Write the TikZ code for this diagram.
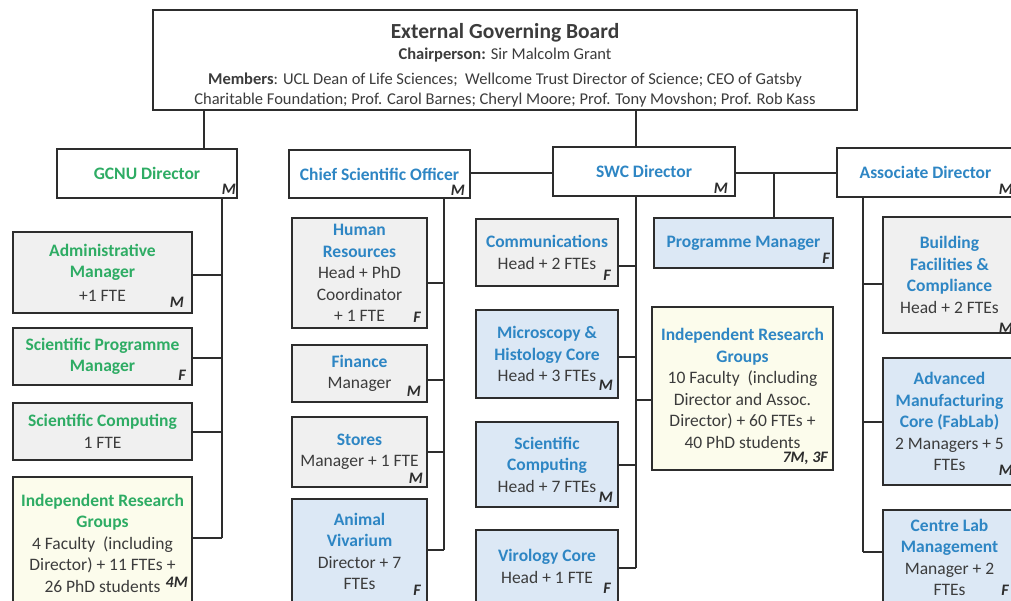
\documentclass[tikz,border=0pt]{standalone}
\usepackage{fontspec}
\setmainfont{Carlito}
\definecolor{hgreen}{RGB}{46,172,100}
\definecolor{hblue}{RGB}{46,134,196}
\definecolor{txt}{RGB}{60,60,60}
\definecolor{fgrey}{RGB}{240,240,240}
\definecolor{fblue}{RGB}{220,232,245}
\definecolor{fyel}{RGB}{252,252,236}
\definecolor{ln}{RGB}{45,45,45}
\tikzset{
  box/.style={draw=ln, line width=2.4pt, align=center, inner sep=0pt,
    font=\fontsize{17.5}{21.5}\selectfont, text=txt},
  conn/.style={draw=ln, line width=2.2pt},
  sexmark/.style={font=\fontsize{16}{16}\selectfont\bfseries\itshape, text=ln,
    inner sep=0pt, anchor=east},
}
\newcommand{\bx}[7]{\node[box,fill=#6,minimum width={#4-#2},minimum height={#5-#3}] (#1) at ({(#2+#4)/2},{(#3+#5)/2}) {#7};}
\newcommand{\hg}[1]{\textcolor{hgreen}{\bfseries #1}}
\newcommand{\hb}[1]{\textcolor{hblue}{\bfseries #1}}
\newcommand{\smark}[3]{\node[sexmark] at (#1,#2) {#3};}
\begin{document}
\begin{tikzpicture}[x=1pt,y=-1pt]
\useasboundingbox (0,0) rectangle (1011,601);
\clip (0,0) rectangle (1011,601);
\fill[white] (0,0) rectangle (1011,601);

% board
\bx{board}{153}{10}{857}{110}{white}{{\rule{0pt}{26pt}\fontsize{21.5}{26}\selectfont\bfseries External Governing Board}\\[0pt]
{\fontsize{16.5}{21}\selectfont\textbf{Chairperson:} Sir Malcolm Grant}\\[3pt]
{\fontsize{16.5}{21}\selectfont\textbf{Members}: UCL Dean of Life Sciences;\ \ Wellcome Trust Director of Science; CEO of Gatsby}\\[-1pt]
{\fontsize{16.5}{21}\selectfont Charitable Foundation; Prof. Carol Barnes; Cheryl Moore; Prof. Tony Movshon; Prof. Rob Kass}}

% directors
\bx{gcnu}{57}{149}{237}{198}{white}{\hg{GCNU Director}}
\bx{cso}{289}{150}{470}{198}{white}{\hb{Chief Scientific Officer}}
\bx{swc}{553}{147}{735}{196}{white}{\hb{SWC Director}}
\bx{assoc}{837}{148}{1016}{197}{white}{\hb{Associate Director}\hspace*{2pt}}

% GCNU column
\bx{admin}{13}{232}{192}{313}{fgrey}{\hg{Administrative}\\\hg{Manager}\\[2pt]+1 FTE}
\bx{sprog}{13}{328}{192}{385}{fgrey}{\hg{Scientific Programme}\\\hg{Manager}}
\bx{scompL}{13}{403}{192}{460}{fgrey}{\hg{Scientific Computing}\\1 FTE}
\bx{irgL}{13}{477}{192}{609}{fyel}{\hg{Independent Research}\\\hg{Groups}\\4 Faculty\ \ (including\\Director) + 11 FTEs +\\26 PhD students}

% CSO column
\bx{hr}{292}{218}{427}{328}{fgrey}{\hb{Human}\\\hb{Resources}\\Head + PhD\\Coordinator\\+ 1 FTE}
\bx{fin}{292}{345}{427}{402}{fgrey}{\hb{Finance}\\Manager}
\bx{stores}{292}{417}{427}{487}{fgrey}{\hb{Stores}\\Manager + 1 FTE}
\bx{animal}{292}{499}{427}{604}{fblue}{\hb{Animal}\\\hb{Vivarium}\\Director + 7\\FTEs}

% SWC column
\bx{comm}{476}{219}{618}{286}{fgrey}{\hb{Communications}\\Head + 2 FTEs}
\bx{micro}{476}{310}{618}{398}{fblue}{\hb{Microscopy \&}\\\hb{Histology Core}\\Head + 3 FTEs}
\bx{scompM}{476}{422}{618}{507}{fblue}{\hb{Scientific}\\\hb{Computing}\\Head + 7 FTEs}
\bx{viro}{476}{530}{618}{603}{fblue}{\hb{Virology Core}\\Head + 1 FTE}
\bx{pm}{654}{218}{833}{268}{fblue}{\hb{Programme Manager}}
\bx{irgM}{652}{307}{833}{470}{fyel}{\hb{Independent Research}\\\hb{Groups}\\10 Faculty\ \ (including\\Director and Assoc.\\Director) + 60 FTEs +\\40 PhD students}

% Associate column
\bx{build}{883}{217}{1016}{333}{fgrey}{\hb{Building}\\\hb{Facilities \&}\\\hb{Compliance}\\Head + 2 FTEs}
\bx{amc}{883}{358}{1016}{485}{fblue}{\hb{Advanced}\\\hb{Manufacturing}\\\hb{Core (FabLab)}\\2 Managers + 5\\FTEs}
\bx{centre}{883}{510}{1016}{605}{fblue}{\hb{Centre Lab}\\\hb{Management}\\Manager + 2\\FTEs}

% markers
\smark{236}{189}{M}
\smark{465}{190}{M}
\smark{728}{188}{M}
\smark{1013}{189}{M}
\smark{184}{302}{M}
\smark{186}{375}{F}
\smark{188}{582}{4M}
\smark{421}{317}{F}
\smark{421}{391}{M}
\smark{423}{478}{M}
\smark{421}{590}{F}
\smark{611}{275}{F}
\smark{613}{385}{M}
\smark{613}{497}{M}
\smark{611}{588}{F}
\smark{830}{258}{F}
\smark{828}{458}{7M, 3F}
\smark{1013}{328}{M}
\smark{1013}{470}{M}
\smark{1009}{590}{F}

% connectors: board
\coordinate (bL) at (204,0);
\coordinate (bR) at (636,0);
\coordinate (top) at (0,173);
\draw[conn] (board.south -| bL) -- (gcnu.north -| bL);
\draw[conn] (board.south -| bR) -- (swc.north -| bR);
\draw[conn] (cso.east |- top) -- (swc.west |- top);
\draw[conn] (swc.east |- top) -- (assoc.west |- top);
\coordinate (pmx) at (774,173);
\draw[conn] (pmx) -- (pm.north -| pmx);

% GCNU spine
\coordinate (g) at (222,0);
\draw[conn] (gcnu.south -| g) -- (g |- 0,538);
\draw[conn] (admin.east |- 0,275) -- (g |- 0,275);
\draw[conn] (sprog.east |- 0,358) -- (g |- 0,358);
\draw[conn] (scompL.east |- 0,432) -- (g |- 0,432);
\draw[conn] (irgL.east |- 0,538) -- (g |- 0,538);

% CSO spine
\coordinate (c) at (444,0);
\draw[conn] (cso.south -| c) -- (c |- 0,550);
\draw[conn] (hr.east |- 0,283) -- (c |- 0,283);
\draw[conn] (fin.east |- 0,380) -- (c |- 0,380);
\draw[conn] (stores.east |- 0,452) -- (c |- 0,452);
\draw[conn] (animal.east |- 0,550) -- (c |- 0,550);

% SWC spine
\coordinate (s) at (636,0);
\draw[conn] (swc.south -| s) -- (s |- 0,568);
\draw[conn] (comm.east |- 0,266) -- (s |- 0,266);
\draw[conn] (micro.east |- 0,357) -- (s |- 0,357);
\draw[conn] (scompM.east |- 0,465) -- (s |- 0,465);
\draw[conn] (viro.east |- 0,568) -- (s |- 0,568);
\draw[conn] (s |- 0,400) -- (irgM.west |- 0,400);

% Associate spine
\coordinate (a) at (863,0);
\draw[conn] (assoc.south -| a) -- (a |- 0,552);
\draw[conn] (a |- 0,284) -- (build.west |- 0,284);
\draw[conn] (a |- 0,422) -- (amc.west |- 0,422);
\draw[conn] (a |- 0,552) -- (centre.west |- 0,552);
\end{tikzpicture}
\end{document}
